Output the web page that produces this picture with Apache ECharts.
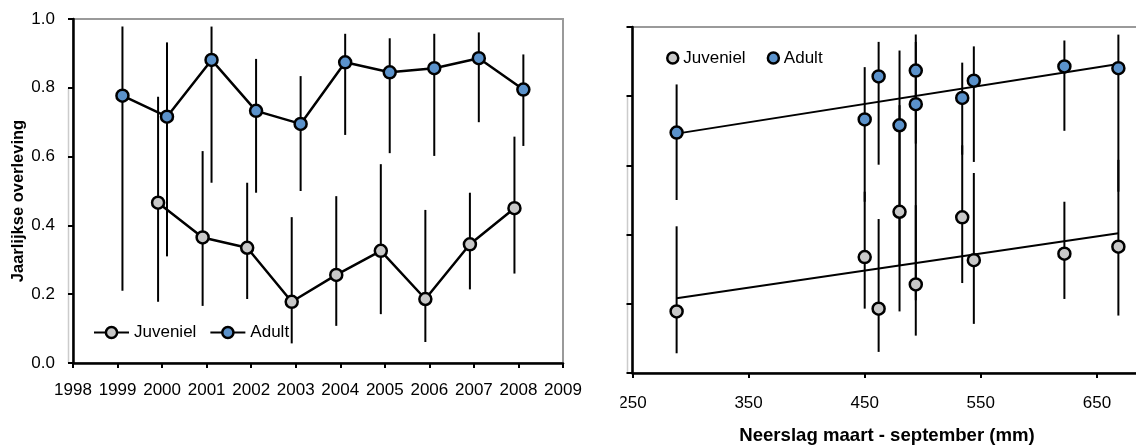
<!DOCTYPE html>
<html>
<head>
<meta charset="utf-8">
<script src="https://cdn.jsdelivr.net/npm/echarts@6/dist/echarts.min.js"></script>
<style>
html,body{margin:0;padding:0;background:#fff;}
#chart{width:1136px;height:448px;}
</style>
</head>
<body>
<div id="chart"></div>
<script>
// ---- data ----
const adultYears = [1999, 2000, 2001, 2002, 2003, 2004, 2005, 2006, 2007, 2008];
const adultSurv  = [0.777, 0.716, 0.881, 0.733, 0.695, 0.874, 0.845, 0.857, 0.886, 0.795];
const adultLo    = [0.210, 0.310, 0.524, 0.495, 0.500, 0.663, 0.610, 0.602, 0.700, 0.631];
const adultHi    = [0.978, 0.932, 0.978, 0.884, 0.834, 0.957, 0.944, 0.957, 0.961, 0.897];

const juvYears = [2000, 2001, 2002, 2003, 2004, 2005, 2006, 2007, 2008];
const juvSurv  = [0.466, 0.365, 0.335, 0.178, 0.256, 0.326, 0.186, 0.345, 0.450];
const juvLo    = [0.178, 0.166, 0.186, 0.057, 0.108, 0.142, 0.061, 0.214, 0.260];
const juvHi    = [0.774, 0.616, 0.524, 0.424, 0.485, 0.578, 0.445, 0.495, 0.658];

// rainfall March-September (mm) per year
const rainYears = [1999, 2000, 2001, 2002, 2003, 2004, 2005, 2006, 2007, 2008];
const rainfall  = [494, 480, 668.5, 450, 288, 494, 544, 462, 622, 534];

const yTicks = [0, 0.2, 0.4, 0.6, 0.8, 1.0];
const yearTicks = [1998, 2009];
const rainTicks = [250, 350, 450, 550, 650];

// ---- helpers ----
const rainOf = y => rainfall[rainYears.indexOf(y)];
const JOFF = -0.09, AOFF = 0.11;

function fit(xs, ys) {
  const n = xs.length;
  const mx = xs.reduce((a, b) => a + b, 0) / n;
  const my = ys.reduce((a, b) => a + b, 0) / n;
  let sxy = 0, sxx = 0;
  for (let i = 0; i < n; i++) { sxy += (xs[i] - mx) * (ys[i] - my); sxx += (xs[i] - mx) ** 2; }
  const b = sxy / sxx, a = my - b * mx;
  const x0 = Math.min(...xs), x1 = Math.max(...xs);
  return [[x0, a + b * x0], [x1, a + b * x1]];
}

const juvRain = juvYears.map(rainOf);
const adultRain = adultYears.map(rainOf);

const BLUE = '#5b92cb', GREY = '#c8c8c8';

function errRender(params, api) {
  const x = api.value(0), lo = api.value(1), hi = api.value(2);
  const p1 = api.coord([x, lo]), p2 = api.coord([x, hi]);
  return { type: 'line', shape: { x1: p1[0], y1: p1[1], x2: p2[0], y2: p2[1] },
           style: { stroke: '#000', lineWidth: 2 } };
}

const axisLineStyle = { lineStyle: { color: '#000', width: 2.5 } };
const tickStyle = { show: true, inside: false, length: 5, lineStyle: { color: '#000', width: 2 } };
const FONT = 'Liberation Sans, Arial, sans-serif';

const option = {
  animation: false,
  textStyle: { fontFamily: FONT, color: '#000' },
  grid: [
    { left: 73, top: 19, width: 490, height: 344, show: true, borderColor: '#9a9a9a', borderWidth: 2,
      backgroundColor: 'transparent', containLabel: false, outerBoundsMode: 'none' },
    { left: 632.5, top: 27, width: 580.5, height: 346, show: true, borderColor: '#9a9a9a', borderWidth: 2,
      backgroundColor: 'transparent', containLabel: false, outerBoundsMode: 'none' }
  ],
  xAxis: [
    { gridIndex: 0, type: 'value', min: yearTicks[0], max: yearTicks[1], interval: 1,
      axisLine: axisLineStyle, axisTick: tickStyle, splitLine: { show: false },
      axisLabel: { fontSize: 17, color: '#000', margin: 19, fontFamily: FONT, formatter: v => String(v) } },
    { gridIndex: 1, type: 'value', min: rainTicks[0], max: 750, interval: 100,
      axisLine: axisLineStyle, axisTick: tickStyle, splitLine: { show: false },
      axisLabel: { fontSize: 17, color: '#000', margin: 22, fontFamily: FONT, formatter: v => String(v) } }
  ],
  yAxis: [
    { gridIndex: 0, type: 'value', min: yTicks[0], max: yTicks[yTicks.length - 1], interval: 0.2,
      axisLine: { show: true, ...axisLineStyle }, axisTick: tickStyle, splitLine: { show: false },
      axisLabel: { fontSize: 17, color: '#000', margin: 18, fontFamily: FONT, formatter: v => v.toFixed(1) } },
    { gridIndex: 1, type: 'value', min: yTicks[0], max: yTicks[yTicks.length - 1], interval: 0.2,
      axisLine: { show: true, ...axisLineStyle }, axisTick: { ...tickStyle, length: 6 }, splitLine: { show: false },
      axisLabel: { show: false } }
  ],
  legend: [
    { data: ['Juveniel', 'Adult'], left: 88, top: 319, padding: 5, itemWidth: 35, itemHeight: 14, itemGap: 13,
      itemStyle: { borderColor: '#000', borderWidth: 2.5 },
      textStyle: { fontSize: 17, color: '#000', fontFamily: FONT }, selectedMode: false },
    { data: [{ name: 'Juveniel', icon: 'circle' }, { name: 'Adult', icon: 'circle' }],
      left: 661, top: 44.5, padding: 5, itemWidth: 11, itemHeight: 11, itemGap: 21,
      itemStyle: { borderColor: '#000', borderWidth: 2.5 },
      textStyle: { fontSize: 17, color: '#000', fontFamily: FONT }, selectedMode: false }
  ],
  series: [
    // left chart error bars
    { name: 'errJ', type: 'custom', xAxisIndex: 0, yAxisIndex: 0, z: 1, renderItem: errRender,
      encode: { x: 0, y: [1, 2] },
      data: juvYears.map((y, i) => [y + JOFF, juvLo[i], juvHi[i]]) },
    { name: 'errA', type: 'custom', xAxisIndex: 0, yAxisIndex: 0, z: 1, renderItem: errRender,
      encode: { x: 0, y: [1, 2] },
      data: adultYears.map((y, i) => [y + AOFF, adultLo[i], adultHi[i]]) },
    // left chart lines
    { name: 'Juveniel', type: 'line', xAxisIndex: 0, yAxisIndex: 0, z: 3,
      symbol: 'circle', symbolSize: 12,
      itemStyle: { color: GREY, borderColor: '#000', borderWidth: 2.5 },
      lineStyle: { color: '#000', width: 2.5 },
      data: juvYears.map((y, i) => [y + JOFF, juvSurv[i]]) },
    { name: 'Adult', type: 'line', xAxisIndex: 0, yAxisIndex: 0, z: 3,
      symbol: 'circle', symbolSize: 12,
      itemStyle: { color: BLUE, borderColor: '#000', borderWidth: 2.5 },
      lineStyle: { color: '#000', width: 2.5 },
      data: adultYears.map((y, i) => [y + AOFF, adultSurv[i]]) },
    // right chart error bars
    { name: 'errJ2', type: 'custom', xAxisIndex: 1, yAxisIndex: 1, z: 1, renderItem: errRender,
      encode: { x: 0, y: [1, 2] },
      data: juvYears.map((y, i) => [juvRain[i], juvLo[i], juvHi[i]]) },
    { name: 'errA2', type: 'custom', xAxisIndex: 1, yAxisIndex: 1, z: 1, renderItem: errRender,
      encode: { x: 0, y: [1, 2] },
      data: adultYears.map((y, i) => [adultRain[i], adultLo[i], adultHi[i]]) },
    // trend lines
    { name: 'trendJ', type: 'line', xAxisIndex: 1, yAxisIndex: 1, z: 2, symbol: 'none',
      lineStyle: { color: '#000', width: 2 }, data: fit(juvRain, juvSurv) },
    { name: 'trendA', type: 'line', xAxisIndex: 1, yAxisIndex: 1, z: 2, symbol: 'none',
      lineStyle: { color: '#000', width: 2 }, data: fit(adultRain, adultSurv) },
    // right chart points
    { name: 'Juveniel', type: 'scatter', xAxisIndex: 1, yAxisIndex: 1, z: 3,
      symbol: 'circle', symbolSize: 12,
      itemStyle: { color: GREY, borderColor: '#000', borderWidth: 2.5, opacity: 1 },
      data: juvYears.map((y, i) => [juvRain[i], juvSurv[i]]) },
    { name: 'Adult', type: 'scatter', xAxisIndex: 1, yAxisIndex: 1, z: 3,
      symbol: 'circle', symbolSize: 12,
      itemStyle: { color: BLUE, borderColor: '#000', borderWidth: 2.5, opacity: 1 },
      data: adultYears.map((y, i) => [adultRain[i], adultSurv[i]]) }
  ],
  graphic: [
    { type: 'text', x: 18, y: 201, rotation: Math.PI / 2, z: 10,
      style: { text: 'Jaarlijkse overleving', fontSize: 16.5, fontWeight: 'bold', fontFamily: FONT,
               fill: '#000', align: 'center', verticalAlign: 'middle' } },
    { type: 'text', x: 887, y: 436, z: 10,
      style: { text: 'Neerslag maart - september (mm)', fontSize: 18.6, fontWeight: 'bold', fontFamily: FONT,
               fill: '#000', align: 'center', verticalAlign: 'middle' } },
    { type: 'line', z: 0, shape: { x1: 68.5, y1: 88, x2: 68.5, y2: 363 }, style: { stroke: '#cccccc', lineWidth: 1.5 } },
    { type: 'line', z: 0, shape: { x1: 627.5, y1: 97, x2: 627.5, y2: 373 }, style: { stroke: '#cccccc', lineWidth: 1.5 } },
    { type: 'rect', z: 100, shape: { x: 584, y: 380, width: 36.5, height: 40 }, style: { fill: '#fff' } }
  ]
};

const chart = echarts.init(document.getElementById('chart'), null, { renderer: 'canvas' });
chart.setOption(option);
</script>
</body>
</html>
